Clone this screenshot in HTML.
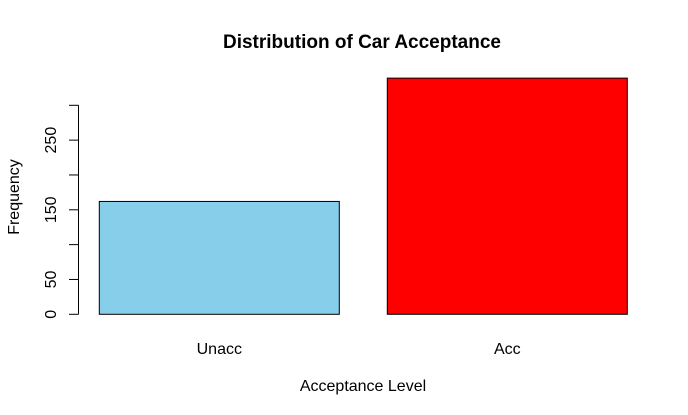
<!DOCTYPE html>
<html><head><meta charset="utf-8"><style>
html,body{margin:0;padding:0;background:#fff;}
svg{display:block;font-family:"Liberation Sans",Arial,sans-serif;}
</style></head><body>
<svg id="chart" width="688" height="415" viewBox="0 0 688 415">
<text x="362" y="48" text-anchor="middle" font-size="19" font-weight="bold">Distribution of Car Acceptance</text>
<text x="363" y="391" text-anchor="middle" font-size="16">Acceptance Level</text>
<text transform="translate(19,197) rotate(-90)" text-anchor="middle" font-size="16">Frequency</text>
<g id="bars"></g>
<g id="yaxis"></g>
<g id="xlabels"></g>
</svg>
<script>
const categories = ["Unacc", "Acc"];
const counts = [162, 339];
const colors = ["#87CEEB", "#FF0000"];
const yTicks = [0, 50, 100, 150, 200, 250, 300];
const yTickLabels = ["0", "50", "", "150", "", "250", ""];

const NS = "http://www.w3.org/2000/svg";
const y0 = 314.3, pxPerUnit = 209 / 300;
function yScale(v){ return y0 - v * pxPerUnit; }
function xLeft(i){ return 99.3 + i * 288; }
const barW = 240;

const bars = document.getElementById("bars");
counts.forEach((v, i) => {
  const r = document.createElementNS(NS, "rect");
  r.setAttribute("x", xLeft(i));
  r.setAttribute("y", yScale(v));
  r.setAttribute("width", barW);
  r.setAttribute("height", yScale(0) - yScale(v));
  r.setAttribute("fill", colors[i]);
  r.setAttribute("stroke", "#000");
  r.setAttribute("stroke-width", "1");
  
  
  bars.appendChild(r);
  const t = document.createElementNS(NS, "text");
  t.setAttribute("x", xLeft(i) + barW / 2);
  t.setAttribute("y", 354);
  t.setAttribute("text-anchor", "middle");
  t.setAttribute("font-size", "16");
  t.textContent = categories[i];
  
  
  document.getElementById("xlabels").appendChild(t);
});

const ya = document.getElementById("yaxis");
const axis = document.createElementNS(NS, "line");
axis.setAttribute("x1", 78.5); axis.setAttribute("x2", 78.5);
axis.setAttribute("y1", yScale(yTicks[0])); axis.setAttribute("y2", yScale(yTicks[yTicks.length - 1]));
axis.setAttribute("stroke", "#000");


ya.appendChild(axis);
yTicks.forEach((v, i) => {
  const l = document.createElementNS(NS, "line");
  l.setAttribute("x1", 69); l.setAttribute("x2", 78.5);
  l.setAttribute("y1", yScale(v)); l.setAttribute("y2", yScale(v));
  l.setAttribute("stroke", "#000");
  
  
  ya.appendChild(l);
  if (yTickLabels[i]) {
    const t = document.createElementNS(NS, "text");
    t.setAttribute("transform", "translate(56," + yScale(v) + ") rotate(-90)");
    t.setAttribute("text-anchor", "middle");
    t.setAttribute("font-size", "16");
    t.textContent = yTickLabels[i];
    
    
    ya.appendChild(t);
  }
});
</script>
</body></html>
